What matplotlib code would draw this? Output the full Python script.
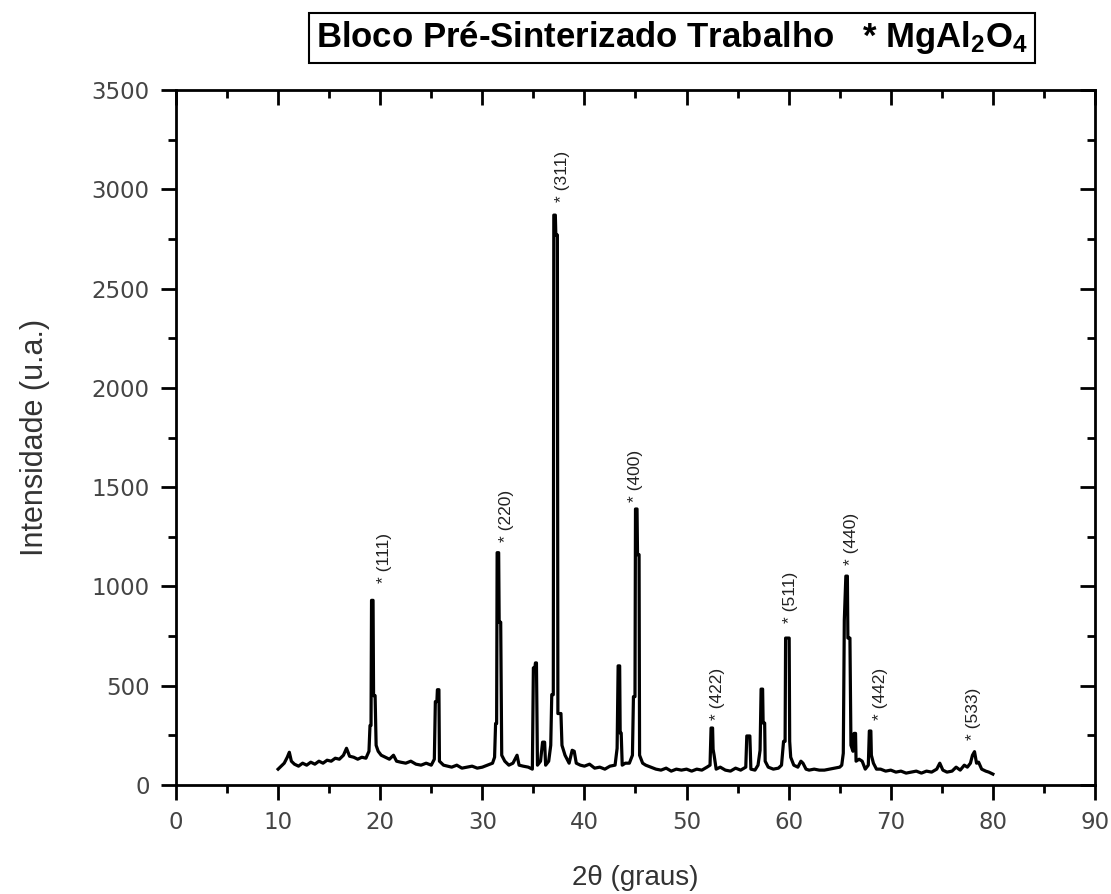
import matplotlib
matplotlib.use('Agg')
import matplotlib.pyplot as plt
from matplotlib.ticker import MultipleLocator

# XRD pattern (2theta, intensity)
two_theta = [
    10.0, 10.3, 10.6, 10.9, 11.1, 11.3, 11.6, 12.0, 12.4, 12.8, 13.2, 13.6,
    14.0, 14.4, 14.8, 15.2, 15.6, 16.0, 16.4, 16.7, 17.0, 17.4, 17.8, 18.2,
    18.6, 18.9, 19.0, 19.1, 19.15, 19.3, 19.35, 19.5, 19.6, 19.8, 20.1, 20.5,
    20.9, 21.3, 21.6, 22.0, 22.5, 23.0, 23.5, 24.0, 24.5, 25.0, 25.3, 25.4,
    25.55, 25.6, 25.75, 25.8, 26.2, 26.6, 27.0, 27.5, 28.0, 28.5, 29.0, 29.5,
    30.0, 30.5, 31.0, 31.2, 31.3, 31.4, 31.45, 31.6, 31.65, 31.8, 31.9, 32.2,
    32.6, 33.0, 33.4, 33.6, 34.0, 34.5, 34.9, 35.0, 35.15, 35.2, 35.3, 35.4,
    35.7, 35.9, 36.1, 36.2, 36.5, 36.7, 36.8, 36.95, 37.0, 37.15, 37.2, 37.35,
    37.4, 37.7, 37.8, 38.1, 38.5, 38.8, 39.0, 39.2, 39.6, 40.0, 40.5, 41.0,
    41.5, 42.0, 42.5, 43.0, 43.2, 43.3, 43.45, 43.5, 43.6, 43.7, 44.0, 44.4,
    44.7, 44.8, 44.95, 45.0, 45.15, 45.2, 45.35, 45.4, 45.7, 46.0, 46.5, 47.0,
    47.5, 48.0, 48.5, 49.0, 49.5, 50.0, 50.5, 51.0, 51.5, 52.0, 52.3, 52.4,
    52.55, 52.6, 52.7, 52.9, 53.3, 53.8, 54.3, 54.8, 55.3, 55.8, 55.9, 56.2,
    56.3, 56.7, 57.0, 57.2, 57.3, 57.45, 57.5, 57.65, 57.7, 58.0, 58.5, 59.0,
    59.3, 59.5, 59.65, 59.7, 60.05, 60.1, 60.2, 60.5, 60.9, 61.2, 61.4, 61.7,
    62.0, 62.5, 63.0, 63.5, 64.0, 64.5, 65.0, 65.2, 65.35, 65.45, 65.6, 65.75,
    65.8, 66.0, 66.1, 66.3, 66.4, 66.55, 66.6, 66.9, 67.2, 67.5, 67.8, 67.9,
    68.05, 68.1, 68.3, 68.6, 69.0, 69.5, 70.0, 70.5, 71.0, 71.5, 72.0, 72.5,
    73.0, 73.5, 74.0, 74.5, 74.8, 75.1, 75.5, 76.0, 76.4, 76.8, 77.2, 77.5,
    77.8, 78.0, 78.2, 78.4, 78.6, 78.9, 79.3, 79.6, 80.0,
]
intensity = [
    80, 95, 110, 140, 165, 120, 105, 95, 110, 100, 115, 105,
    120, 110, 125, 120, 135, 130, 150, 185, 145, 140, 130, 140,
    135, 170, 300, 300, 930, 930, 450, 450, 200, 170, 150, 140,
    130, 150, 120, 115, 110, 120, 105, 100, 110, 100, 130, 420,
    420, 480, 480, 120, 100, 95, 90, 100, 85, 90, 95, 85,
    90, 100, 110, 140, 310, 310, 1170, 1170, 820, 820, 150, 120,
    100, 110, 150, 100, 95, 90, 80, 590, 590, 615, 615, 100,
    120, 216, 216, 100, 120, 200, 455, 455, 2870, 2870, 2770, 2770,
    360, 360, 200, 150, 110, 175, 170, 110, 100, 95, 105, 85,
    90, 80, 95, 100, 185, 600, 600, 262, 262, 100, 110, 110,
    150, 445, 445, 1390, 1390, 1160, 1160, 150, 110, 100, 90, 80,
    75, 85, 70, 80, 75, 80, 70, 80, 75, 90, 100, 287,
    287, 180, 150, 80, 90, 75, 70, 85, 75, 90, 247, 247,
    80, 75, 100, 175, 483, 483, 312, 312, 120, 90, 80, 85,
    100, 220, 220, 740, 740, 220, 140, 100, 90, 120, 110, 80,
    75, 80, 75, 75, 80, 85, 90, 100, 160, 830, 1052, 1052,
    740, 740, 200, 170, 260, 260, 120, 130, 120, 80, 100, 272,
    272, 150, 110, 80, 80, 70, 75, 65, 70, 60, 65, 70,
    60, 70, 65, 80, 110, 75, 65, 70, 90, 75, 100, 90,
    110, 150, 168, 110, 115, 80, 70, 65, 55,
]

# peak labels (MgAl2O4 reflections)
hkl = ['(111)', '(220)', '(311)', '(400)', '(422)', '(511)', '(440)', '(442)', '(533)']
hkl_x = [20.4, 32.4, 37.9, 45.0, 53.0, 60.2, 66.2, 69.0, 78.1]
hkl_y = [1017, 1224, 2935, 1425, 327, 815, 1108, 327, 227]

x_ticks = [0, 10, 20, 30, 40, 50, 60, 70, 80, 90]
y_ticks = [0, 500, 1000, 1500, 2000, 2500, 3000, 3500]

plt.rcParams['font.family'] = ['Liberation Sans', 'DejaVu Sans']
plt.rcParams['mathtext.fontset'] = 'custom'
plt.rcParams['mathtext.rm'] = 'Liberation Sans'
plt.rcParams['mathtext.bf'] = 'Liberation Sans:bold'

fig = plt.figure(figsize=(11.11, 8.94), dpi=100)
ax = fig.add_axes([0.1584, 0.1219, 0.8272, 0.7774])

ax.plot(two_theta, intensity, color='black', lw=2.3)

for lab, lx, ly in zip(hkl, hkl_x, hkl_y):
    ax.text(lx, ly, '* ' + lab, rotation=90, ha='center', va='bottom',
            fontsize=12.5, color='#222222')

ax.set_xlim(0, 90)
ax.set_ylim(0, 3500)
ax.set_xticks(x_ticks)
ax.set_yticks(y_ticks)
ax.xaxis.set_minor_locator(MultipleLocator(5))
ax.yaxis.set_minor_locator(MultipleLocator(250))

for s in ax.spines.values():
    s.set_linewidth(2)

ax.tick_params(which='both', direction='out', width=2, labelsize=16.5,
               labelcolor='#444444', top=True, right=True)
ax.tick_params(which='major', length=11, pad=8)
ax.tick_params(which='minor', length=6)
for lbl in ax.get_xticklabels() + ax.get_yticklabels():
    lbl.set_family('DejaVu Sans')
# top and right ticks point inward
for t in ax.xaxis.get_major_ticks() + ax.xaxis.get_minor_ticks():
    t.tick2line.set_marker(3)
for t in ax.yaxis.get_major_ticks() + ax.yaxis.get_minor_ticks():
    t.tick2line.set_marker(0)

ax.set_xlabel('2θ (graus)', fontsize=20, color='#333333', labelpad=22)
ax.set_ylabel('Intensidade (u.a.)', fontsize=22, color='#333333', labelpad=30)

fig.text(316 / 1111, 1 - 38 / 894,
         'Bloco Pré-Sinterizado Trabalho   * $\\mathbf{MgAl_2O_4}$',
         fontsize=25, fontweight='bold', va='center', ha='left',
         bbox=dict(boxstyle='square,pad=0.2', facecolor='white',
                   edgecolor='black', lw=1.5))

fig.savefig('out.png', dpi=100)
